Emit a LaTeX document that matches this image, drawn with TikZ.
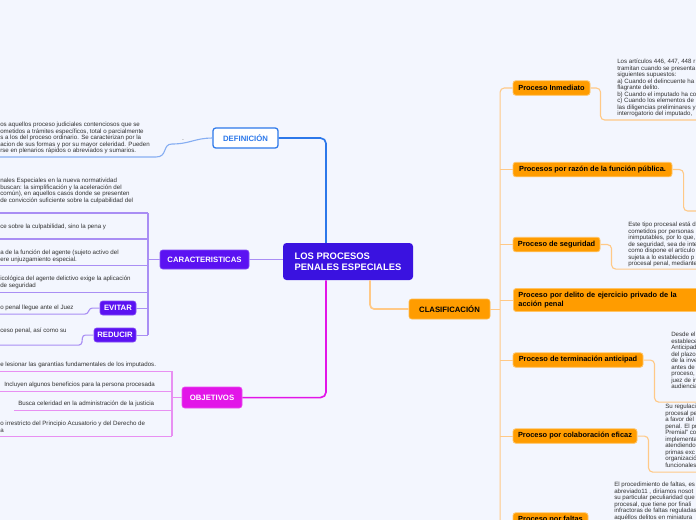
\documentclass[tikz,border=0pt]{standalone}
\usepackage{fontspec}
\setmainfont{Liberation Sans}
\definecolor{mmback}{HTML}{F3F6FE}
\definecolor{mmcen}{HTML}{3A12E0}
\definecolor{mmdef}{HTML}{2C78EA}
\definecolor{mmdefl}{HTML}{86AEF2}
\definecolor{mmcar}{HTML}{5B12F2}
\definecolor{mmcarl}{HTML}{A98EF4}
\definecolor{mmobj}{HTML}{E215E8}
\definecolor{mmobjl}{HTML}{E890F2}
\definecolor{mmcla}{HTML}{FF9C00}
\definecolor{mmclal}{HTML}{FFC987}
\definecolor{mmtxt}{HTML}{333333}
\begin{document}
\begin{tikzpicture}[scale=2.54,
  every node/.style={inner sep=0pt},
  mmtopic/.style={rounded corners=2pt,font=\fontsize{5.6}{6.5}\selectfont\bfseries},
  deftopic/.style={mmtopic,fill=white,draw=mmdef,line width=0.9pt,text=mmdef},
  cartopic/.style={mmtopic,fill=mmcar,draw=mmcar!75!white,line width=0.5pt,text=white,minimum height=0.14in},
  objtopic/.style={mmtopic,fill=mmobj,draw=mmobj!75!white,line width=0.5pt,text=white},
  clatopic/.style={mmtopic,fill=mmcla,draw=mmcla!70!white,line width=0.5pt,text=black},
  clasub/.style={rounded corners=2pt,fill=mmcla,draw=mmcla!60!white,line width=0.6pt,
    font=\fontsize{5.35}{6.6}\selectfont\bfseries,text=black,minimum height=0.145in},
  mmtext/.style={anchor=north west,align=left,text=mmtxt,font=\fontsize{4.45}{4.68}\selectfont},
  deflink/.style={draw=mmdefl},
  deflinkd/.style={draw=mmdef,line width=1.2bp,rounded corners=4pt},
  carlink/.style={draw=mmcarl,rounded corners=2pt},
  objlink/.style={draw=mmobjl},
  objlinkd/.style={draw=mmobj,line width=1.2bp,rounded corners=4pt},
  clalink/.style={draw=mmclal,rounded corners=3pt}]%
% mind map LOS PROCESOS PENALES ESPECIALES, units of 100px
\ifx\mmlw\undefined\newdimen\mmlw\fi
\global\def\mmdraw{\draw[line width=\mmlw]}
\global\def\mmstop{;}
\mmlw=0.8bp
\fill[mmback] (0,0) rectangle (6.96,-5.20)\mmstop
\useasboundingbox (0,0) rectangle (6.96,-5.20)\mmstop
\node (cen) at (3.48,-2.615) [fill=mmcen,rounded corners=2.5pt,minimum width=1.30in,minimum height=0.37in,
  align=left,font=\fontsize{6.8}{8}\selectfont\bfseries,text=white] {LOS PROCESOS\\PENALES ESPECIALES};
\node (def) at (2.455,-1.38) [deftopic,minimum width=0.65in,minimum height=0.20in] {DEFINICIÓN};
\node (car) at (2.045,-2.595) [cartopic,minimum width=0.89in,minimum height=0.19in] {CARACTERISTICAS};
\node (evi) at (1.18,-3.08) [cartopic,minimum width=0.36in] {EVITAR};
\node (red) at (1.15,-3.35) [cartopic,minimum width=0.42in] {REDUCIR};
\node (obj) at (2.12,-3.975) [objtopic,minimum width=0.60in,minimum height=0.21in] {OBJETIVOS};
\node (cla) at (4.495,-3.09) [clatopic,minimum width=0.81in,minimum height=0.20in] {CLASIFICACIÓN};
\node (inm) at (5.515,-0.88) [clasub,minimum width=0.77in] {Proceso Inmediato};
\node (fun) at (5.925,-1.695) [clasub,minimum width=1.59in] {Procesos por razón de la función pública.};
\node (seg) at (5.565,-2.445) [clasub,minimum width=0.87in] {Proceso de seguridad};
\node (pri) at (5.13,-3.00) [clasub,anchor=west,inner xsep=0.05in,text width=1.85in,minimum height=0.23in,
  align=left] {Proceso por delito de ejercicio privado de la\\acción penal};
\node (ter) at (5.78,-3.60) [clasub,minimum width=1.30in] {Proceso de terminación anticipad};
\node (col) at (5.75,-4.36) [clasub,minimum width=1.24in] {Proceso por colaboración eficaz};
\node (fal) at (5.505,-5.20) [clasub,minimum width=0.75in] {Proceso por faltas};
\node (deftx) at (0,-1.22) [mmtext] {os aquellos proceso judiciales contenciosos que se\\ometidos a trámites específicos, total o parcialmente\\s a los del proceso ordinario. Se caracterizan por la\\acion de sus formas y por su mayor celeridad. Pueden\\rse en plenarios rápidos o abreviados y sumarios.};
\node (defmk) at (1.83,-1.41) [font=\fontsize{4}{4}\selectfont,text=gray] {-};
\node (ch1tx) at (0,-1.78) [mmtext] {nales Especiales en la nueva normatividad\\buscan: la simplificación y la aceleración del\\común), en aquellos casos donde se presenten\\de convicción suficiente sobre la culpabilidad del};
\node (ch2tx) at (0,-2.24) [mmtext] {ce sobre la culpabilidad, sino la pena y};
\node (ch3tx) at (0,-2.50) [mmtext] {a de la función del agente (sujeto activo del\\ere unjuzgamiento especial.};
\node (ch4tx) at (0,-2.76) [mmtext] {icológica del agente delictivo exige la aplicación\\de seguridad};
\node (evitx) at (0,-3.05) [mmtext] {o penal llegue ante el Juez};
\node (redtx) at (0,-3.28) [mmtext] {ceso penal, así como su};
\node (ob1tx) at (0,-3.62) [mmtext] {e lesionar las garantías fundamentales de los imputados.};
\node (ob2tx) at (0.04,-3.82) [mmtext] {Incluyen algunos beneficios para la persona procesada};
\node (ob3tx) at (0.18,-4.01) [mmtext] {Busca celeridad en la administración de la justicia};
\node (ob4tx) at (0,-4.21) [mmtext] {o irrestricto del Principio Acusatorio y del Derecho de\\a};
\node (inmtx) at (6.17,-0.59) [mmtext] {Los artículos 446, 447, 448 r\\tramitan cuando se presenta\\siguientes supuestos:\\a) Cuando el delincuente ha\\flagrante delito.\\b) Cuando el imputado ha co\\c) Cuando los elementos de\\las diligencias preliminares y\\interrogatorio del imputado,};
\node (segtx) at (6.28,-2.22) [mmtext] {Este tipo procesal está d\\cometidos por personas\\inimputables, por lo que,\\de seguridad, sea de inte\\como dispone el artículo\\sujeta a lo establecido p\\procesal penal, mediante};
\node (tertx) at (6.71,-3.32) [mmtext] {Desde el\\establece\\Anticipad\\del plazo\\de la inve\\antes de\\proceso,\\juez de in\\audiencia};
\node (coltx) at (6.65,-4.04) [mmtext] {Su regulació\\procesal pe\\a favor del\\penal. El pr\\Premial" co\\implementa\\atendiendo\\primas exc\\organizació\\funcionales};
\node (faltx) at (6.14,-4.82) [mmtext] {El procedimiento de faltas, es\\abreviado11 , diríamos nosot\\su particular peculiaridad que\\procesal, que tiene por finali\\infractoras de faltas reguladas\\aquéllos delitos en miniatura};
\coordinate (defu) at (0,-1.57);
\coordinate (cart) at (1.48,-2.13);
\coordinate (carb) at (1.48,-3.35);
\coordinate (ch1) at (0,-2.13);
\coordinate (ch2) at (0,-2.39);
\coordinate (ch3) at (0,-2.65);
\coordinate (ch4) at (0,-2.92);
\coordinate (evu) at (0,-3.14);
\coordinate (reu) at (0,-3.45);
\coordinate (objt) at (1.72,-3.71);
\coordinate (objb) at (1.72,-4.36);
\coordinate (ob1) at (0,-3.71);
\coordinate (ob2) at (0,-3.91);
\coordinate (ob3) at (0.14,-4.10);
\coordinate (ob4) at (0,-4.36);
\coordinate (clab) at (5.00,-5.30);
\coordinate (inmu) at (6.96,-1.20);
\coordinate (funu) at (6.96,-2.11);
\coordinate (segu) at (6.96,-2.69);
\coordinate (teru) at (6.96,-4.02);
\coordinate (colu) at (6.96,-4.72);
\mmdraw[deflinkd] (cen.north) ++(-0.22,0) |- (def.east)\mmstop
\mmdraw[deflink] (def.west)
 ..controls (1.95,-1.38) and (1.90,-1.44)
 ..(1.72,-1.44)
 ..controls (1.62,-1.44) and (1.68,-1.57)
 ..(1.56,-1.57)
 --(defu)\mmstop
\mmdraw[carlink,line width=1.2bp] (car.east) -- (car.east -| cen.west)\mmstop
\mmdraw[carlink] (cart) -- (carb)\mmstop
\mmdraw[carlink] (car.west) -- (car.west -| cart)\mmstop
\mmdraw[carlink] (ch1) -- (cart)\mmstop
\mmdraw[carlink] (ch2) -- (ch2 -| cart)\mmstop
\mmdraw[carlink] (ch3) -- (ch3 -| cart)\mmstop
\mmdraw[carlink] (ch4) -- (ch4 -| cart)\mmstop
\mmdraw[carlink] (evi.east) -- (evi.east -| cart)\mmstop
\mmdraw[carlink] (red.east) -- (carb)\mmstop
\mmdraw[carlink] (evi.west)
 --++(-0.10,0)
 --++(-0.02,-0.06)
 --(evu)\mmstop
\mmdraw[carlink] (red.west)
 --++(-0.11,0)
 --++(-0.01,-0.10)
 --(reu)\mmstop
\mmdraw[objlinkd] (cen.south) ++(-0.22,0) |- (obj.east)\mmstop
\mmdraw[objlink] (objt) -- (objb)\mmstop
\mmdraw[objlink] (obj.west) -- (obj.west -| objt)\mmstop
\mmdraw[objlink] (ob1) -- (objt)\mmstop
\mmdraw[objlink] (ob2) -- (ob2 -| objt)\mmstop
\mmdraw[objlink] (ob3) -- (ob3 -| objt)\mmstop
\mmdraw[objlink] (ob4) -- (objb)\mmstop
\mmdraw[clalink,line width=1.2bp] (cen.south) ++(0.22,0) |- (cla.west)\mmstop
\mmdraw[clalink] (cla.east) -- (cla.east -| clab)\mmstop
\mmdraw[clalink] (inm.west) -| (clab)\mmstop
\mmdraw[clalink] (fun.west) -- (fun.west -| clab)\mmstop
\mmdraw[clalink] (seg.west) -- (seg.west -| clab)\mmstop
\mmdraw[clalink] (pri.west) -- (pri.west -| clab)\mmstop
\mmdraw[clalink] (ter.west) -- (ter.west -| clab)\mmstop
\mmdraw[clalink] (col.west) -- (col.west -| clab)\mmstop
\mmdraw[clalink] (fal.west) -- (fal.west -| clab)\mmstop
\mmdraw[clalink] (inm.east) --++(0.10,0) |- (inmu)\mmstop
\mmdraw[clalink] (fun.east) --++(0.11,0) |- (funu)\mmstop
\mmdraw[clalink] (seg.east) --++(0.11,0) |- (segu)\mmstop
\mmdraw[clalink] (ter.east) --++(0.11,0) |- (teru)\mmstop
\mmdraw[clalink] (col.east) --++(0.11,0) |- (colu)\mmstop
\end{tikzpicture}
\end{document}
